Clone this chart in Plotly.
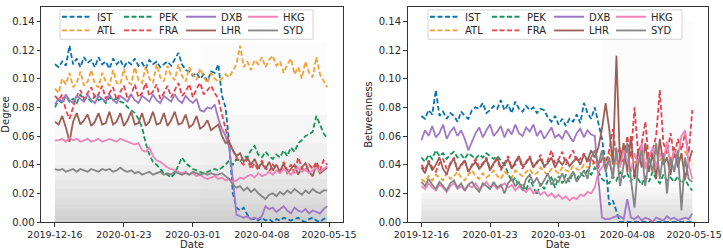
import plotly.graph_objects as go
import pandas as pd

# ---------------- data (sampled every 2 days) ----------------
dates = pd.date_range("2019-12-16", periods=76, freq="2D")
airports = ["IST", "ATL", "PEK", "FRA", "DXB", "LHR", "HKG", "SYD"]
tick_dates = ["2019-12-16", "2020-01-23", "2020-03-01", "2020-04-08", "2020-05-15"]
y_ticks = [0.00, 0.02, 0.04, 0.06, 0.08, 0.10, 0.12, 0.14]

deg_IST = [0.110, 0.108, 0.112, 0.109, 0.123, 0.110, 0.114, 0.108, 0.115, 0.111,
           0.113, 0.108, 0.115, 0.110, 0.112, 0.107, 0.114, 0.110, 0.113, 0.108,
           0.112, 0.110, 0.114, 0.109, 0.111, 0.107, 0.113, 0.110, 0.112, 0.108,
           0.110, 0.112, 0.109, 0.114, 0.118, 0.110, 0.106, 0.105, 0.102, 0.104,
           0.100, 0.103, 0.098, 0.105, 0.104, 0.110, 0.088, 0.080, 0.055, 0.020,
           0.010, 0.008, 0.010, 0.005, 0.002, 0.002, 0.001, 0.003, 0.001, 0.002,
           0.000, 0.002, 0.001, 0.003, 0.002, 0.001, 0.002, 0.003, 0.001, 0.000,
           0.002, 0.003, 0.001, 0.000, 0.002, 0.003]
deg_ATL = [0.093, 0.090, 0.100, 0.096, 0.104, 0.094, 0.097, 0.105, 0.095, 0.098,
           0.106, 0.096, 0.094, 0.104, 0.098, 0.095, 0.106, 0.097, 0.096, 0.107,
           0.098, 0.096, 0.108, 0.099, 0.097, 0.109, 0.100, 0.097, 0.110, 0.101,
           0.098, 0.109, 0.102, 0.099, 0.110, 0.102, 0.098, 0.108, 0.103, 0.099,
           0.107, 0.101, 0.097, 0.104, 0.100, 0.098, 0.100, 0.103, 0.101, 0.106,
           0.110, 0.123, 0.108, 0.112, 0.106, 0.113, 0.110, 0.115, 0.108, 0.113,
           0.116, 0.109, 0.112, 0.104, 0.110, 0.114, 0.103, 0.108, 0.100, 0.112,
           0.104, 0.101, 0.115, 0.103, 0.098, 0.094]
deg_PEK = [0.080, 0.085, 0.083, 0.088, 0.084, 0.086, 0.083, 0.089, 0.085, 0.087,
           0.084, 0.088, 0.085, 0.086, 0.083, 0.087, 0.085, 0.086, 0.084, 0.083,
           0.080, 0.078, 0.076, 0.072, 0.066, 0.055, 0.047, 0.042, 0.040, 0.037,
           0.034, 0.033, 0.031, 0.034, 0.040, 0.045, 0.041, 0.039, 0.037, 0.036,
           0.035, 0.034, 0.035, 0.036, 0.037, 0.036, 0.038, 0.040, 0.043, 0.040,
           0.044, 0.042, 0.046, 0.045, 0.050, 0.053, 0.047, 0.045, 0.049, 0.046,
           0.044, 0.047, 0.045, 0.050, 0.046, 0.052, 0.049, 0.055, 0.057, 0.060,
           0.061, 0.063, 0.074, 0.068, 0.062, 0.058]
deg_FRA = [0.088, 0.085, 0.089, 0.078, 0.072, 0.080, 0.088, 0.092, 0.086, 0.090,
           0.094, 0.087, 0.089, 0.095, 0.086, 0.090, 0.094, 0.085, 0.091, 0.095,
           0.086, 0.089, 0.096, 0.087, 0.090, 0.097, 0.088, 0.091, 0.096, 0.086,
           0.090, 0.095, 0.087, 0.092, 0.097, 0.088, 0.091, 0.096, 0.087, 0.093,
           0.097, 0.089, 0.092, 0.095, 0.090, 0.086, 0.075, 0.065, 0.055, 0.050,
           0.045, 0.042, 0.040, 0.044, 0.037, 0.041, 0.036, 0.043, 0.038, 0.035,
           0.040, 0.037, 0.034, 0.042, 0.036, 0.040, 0.034, 0.045, 0.038, 0.035,
           0.040, 0.037, 0.042, 0.036, 0.043, 0.040]
deg_DXB = [0.082, 0.086, 0.084, 0.089, 0.085, 0.083, 0.088, 0.086, 0.084, 0.089,
           0.085, 0.083, 0.088, 0.086, 0.084, 0.089, 0.085, 0.083, 0.088, 0.086,
           0.084, 0.089, 0.085, 0.083, 0.088, 0.086, 0.084, 0.089, 0.085, 0.083,
           0.088, 0.086, 0.084, 0.089, 0.085, 0.083, 0.088, 0.085, 0.083, 0.086,
           0.078, 0.077, 0.080, 0.079, 0.082, 0.072, 0.065, 0.060, 0.052, 0.030,
           0.005, 0.004, 0.003, 0.004, 0.002, 0.003, 0.002, 0.004, 0.011, 0.009,
           0.010, 0.007, 0.009, 0.011, 0.008, 0.006, 0.010, 0.008, 0.007, 0.009,
           0.006, 0.008, 0.007, 0.006, 0.009, 0.011]
deg_LHR = [0.070, 0.068, 0.074, 0.066, 0.056, 0.070, 0.076, 0.068, 0.071, 0.075,
           0.067, 0.070, 0.076, 0.068, 0.069, 0.077, 0.068, 0.070, 0.076, 0.067,
           0.071, 0.077, 0.068, 0.069, 0.076, 0.067, 0.070, 0.077, 0.068, 0.069,
           0.076, 0.067, 0.071, 0.077, 0.068, 0.069, 0.075, 0.066, 0.068, 0.074,
           0.065, 0.067, 0.071, 0.064, 0.066, 0.068, 0.060, 0.055, 0.056, 0.050,
           0.046, 0.048, 0.042, 0.045, 0.040, 0.044, 0.038, 0.041, 0.037, 0.042,
           0.036, 0.040, 0.035, 0.041, 0.034, 0.037, 0.040, 0.033, 0.038, 0.041,
           0.035, 0.032, 0.040, 0.034, 0.036, 0.038]
deg_HKG = [0.057, 0.057, 0.058, 0.056, 0.059, 0.057, 0.058, 0.056, 0.057, 0.058,
           0.056, 0.057, 0.058, 0.056, 0.057, 0.058, 0.057, 0.056, 0.058, 0.057,
           0.056, 0.055, 0.054, 0.055, 0.050, 0.049, 0.052, 0.046, 0.043, 0.042,
           0.040, 0.038, 0.037, 0.036, 0.035, 0.034, 0.035, 0.033, 0.034, 0.032,
           0.033, 0.031, 0.030, 0.031, 0.032, 0.030, 0.031, 0.029, 0.030, 0.028,
           0.029, 0.031, 0.030, 0.032, 0.033, 0.031, 0.034, 0.032, 0.033, 0.035,
           0.033, 0.036, 0.034, 0.037, 0.035, 0.033, 0.036, 0.038, 0.035, 0.037,
           0.034, 0.036, 0.038, 0.035, 0.037, 0.039]
deg_SYD = [0.037, 0.036, 0.037, 0.035, 0.036, 0.037, 0.035, 0.037, 0.036, 0.035,
           0.037, 0.036, 0.035, 0.037, 0.036, 0.037, 0.035, 0.036, 0.038, 0.036,
           0.035, 0.036, 0.034, 0.035, 0.033, 0.034, 0.035, 0.033, 0.034, 0.035,
           0.033, 0.034, 0.033, 0.035, 0.034, 0.033, 0.034, 0.033, 0.035, 0.034,
           0.033, 0.034, 0.033, 0.034, 0.033, 0.033, 0.034, 0.032, 0.030, 0.026,
           0.024, 0.025, 0.022, 0.024, 0.021, 0.023, 0.020, 0.018, 0.016, 0.019,
           0.020, 0.018, 0.021, 0.019, 0.022, 0.020, 0.023, 0.021, 0.019, 0.022,
           0.020, 0.023, 0.021, 0.020, 0.022, 0.022]

bet_IST = [0.074, 0.072, 0.078, 0.075, 0.092, 0.074, 0.077, 0.072, 0.076, 0.074,
           0.070, 0.077, 0.074, 0.072, 0.078, 0.080, 0.079, 0.083, 0.076, 0.078,
           0.081, 0.079, 0.085, 0.078, 0.082, 0.076, 0.084, 0.079, 0.077, 0.081,
           0.078, 0.080, 0.076, 0.079, 0.078, 0.073, 0.070, 0.074, 0.068, 0.072,
           0.067, 0.072, 0.070, 0.075, 0.069, 0.083, 0.076, 0.072, 0.080, 0.068,
           0.058, 0.040, 0.012, 0.015, 0.008, 0.000, 0.000, 0.000, 0.000, 0.000,
           0.000, 0.000, 0.000, 0.000, 0.000, 0.000, 0.000, 0.000, 0.000, 0.000,
           0.000, 0.000, 0.000, 0.000, 0.000, 0.000]
bet_ATL = [0.030, 0.028, 0.032, 0.029, 0.033, 0.031, 0.029, 0.034, 0.030, 0.032,
           0.035, 0.031, 0.029, 0.033, 0.036, 0.032, 0.030, 0.034, 0.031, 0.033,
           0.036, 0.032, 0.030, 0.035, 0.033, 0.031, 0.036, 0.034, 0.032, 0.035,
           0.037, 0.033, 0.034, 0.038, 0.035, 0.033, 0.037, 0.036, 0.034, 0.038,
           0.036, 0.035, 0.039, 0.037, 0.036, 0.040, 0.038, 0.039, 0.042, 0.040,
           0.045, 0.042, 0.048, 0.044, 0.040, 0.046, 0.043, 0.050, 0.045, 0.041,
           0.047, 0.044, 0.040, 0.048, 0.045, 0.050, 0.043, 0.046, 0.049, 0.044,
           0.047, 0.042, 0.046, 0.049, 0.045, 0.040]
bet_PEK = [0.045, 0.042, 0.047, 0.044, 0.050, 0.046, 0.048, 0.044, 0.047, 0.049,
           0.045, 0.047, 0.044, 0.048, 0.046, 0.044, 0.047, 0.045, 0.048, 0.046,
           0.044, 0.046, 0.043, 0.040, 0.034, 0.028, 0.031, 0.024, 0.027, 0.022,
           0.030, 0.025, 0.019, 0.027, 0.023, 0.029, 0.031, 0.024, 0.032, 0.027,
           0.033, 0.028, 0.035, 0.030, 0.034, 0.032, 0.036, 0.033, 0.038, 0.035,
           0.030, 0.028, 0.027, 0.032, 0.029, 0.035, 0.031, 0.034, 0.028, 0.033,
           0.030, 0.026, 0.032, 0.028, 0.035, 0.030, 0.027, 0.033, 0.029, 0.031,
           0.028, 0.032, 0.027, 0.030, 0.025, 0.022]
bet_FRA = [0.040, 0.036, 0.043, 0.038, 0.035, 0.041, 0.044, 0.037, 0.040, 0.045,
           0.036, 0.039, 0.043, 0.035, 0.040, 0.044, 0.038, 0.041, 0.045, 0.037,
           0.040, 0.044, 0.036, 0.041, 0.046, 0.038, 0.040, 0.045, 0.037, 0.042,
           0.046, 0.039, 0.041, 0.047, 0.038, 0.043, 0.050, 0.041, 0.044, 0.049,
           0.040, 0.045, 0.050, 0.042, 0.044, 0.048, 0.041, 0.045, 0.040, 0.038,
           0.044, 0.040, 0.050, 0.065, 0.045, 0.052, 0.040, 0.060, 0.045, 0.080,
           0.048, 0.055, 0.070, 0.042, 0.050, 0.060, 0.092, 0.055, 0.048, 0.062,
           0.045, 0.058, 0.050, 0.062, 0.048, 0.078]
bet_DXB = [0.057, 0.064, 0.060, 0.067, 0.059, 0.062, 0.068, 0.058, 0.063, 0.066,
           0.060, 0.064, 0.058, 0.050, 0.056, 0.062, 0.066, 0.059, 0.064, 0.068,
           0.060, 0.063, 0.067, 0.059, 0.065, 0.061, 0.068, 0.062, 0.060, 0.066,
           0.063, 0.068, 0.060, 0.064, 0.058, 0.062, 0.066, 0.059, 0.061, 0.058,
           0.064, 0.060, 0.056, 0.062, 0.065, 0.059, 0.064, 0.061, 0.060, 0.030,
           0.003, 0.002, 0.002, 0.003, 0.004, 0.004, 0.002, 0.016, 0.003, 0.002,
           0.004, 0.001, 0.003, 0.002, 0.000, 0.003, 0.002, 0.001, 0.004, 0.002,
           0.003, 0.001, 0.002, 0.003, 0.002, 0.006]
bet_LHR = [0.038, 0.034, 0.042, 0.036, 0.040, 0.045, 0.037, 0.033, 0.041, 0.044,
           0.036, 0.040, 0.043, 0.035, 0.039, 0.042, 0.037, 0.040, 0.044, 0.036,
           0.041, 0.045, 0.038, 0.040, 0.044, 0.037, 0.042, 0.046, 0.039, 0.041,
           0.045, 0.038, 0.042, 0.044, 0.039, 0.041, 0.045, 0.038, 0.043, 0.040,
           0.044, 0.039, 0.042, 0.045, 0.040, 0.047, 0.043, 0.050, 0.045, 0.052,
           0.065, 0.083, 0.065, 0.040, 0.116, 0.040, 0.055, 0.035, 0.060, 0.030,
           0.050, 0.038, 0.055, 0.035, 0.048, 0.030, 0.058, 0.040, 0.045, 0.033,
           0.052, 0.038, 0.048, 0.030, 0.042, 0.050]
bet_HKG = [0.025, 0.023, 0.027, 0.024, 0.022, 0.026, 0.024, 0.021, 0.025, 0.027,
           0.023, 0.025, 0.022, 0.026, 0.024, 0.027, 0.023, 0.025, 0.028, 0.024,
           0.026, 0.023, 0.025, 0.027, 0.024, 0.026, 0.022, 0.025, 0.023, 0.021,
           0.024, 0.020, 0.022, 0.019, 0.021, 0.018, 0.020, 0.017, 0.019, 0.016,
           0.018, 0.015, 0.017, 0.016, 0.019, 0.018, 0.021, 0.020, 0.024, 0.035,
           0.038, 0.042, 0.040, 0.036, 0.045, 0.038, 0.050, 0.042, 0.035, 0.048,
           0.040, 0.055, 0.037, 0.045, 0.052, 0.038, 0.048, 0.042, 0.056, 0.040,
           0.050, 0.045, 0.060, 0.064, 0.040, 0.030]
bet_SYD = [0.028, 0.025, 0.030, 0.026, 0.023, 0.028, 0.025, 0.022, 0.027, 0.029,
           0.024, 0.027, 0.022, 0.026, 0.028, 0.024, 0.021, 0.027, 0.025, 0.023,
           0.028, 0.024, 0.026, 0.020, 0.027, 0.030, 0.025, 0.028, 0.022, 0.030,
           0.033, 0.027, 0.031, 0.025, 0.029, 0.034, 0.026, 0.030, 0.028, 0.034,
           0.027, 0.031, 0.035, 0.028, 0.032, 0.036, 0.030, 0.045, 0.050, 0.040,
           0.050, 0.035, 0.045, 0.030, 0.052, 0.025, 0.040, 0.055, 0.030, 0.010,
           0.040, 0.050, 0.025, 0.045, 0.035, 0.055, 0.030, 0.048, 0.020, 0.045,
           0.035, 0.050, 0.008, 0.045, 0.030, 0.028]

# envelope levels of the faint grey "all other airports" background
bg_deg_levels = [0.004, 0.008, 0.012, 0.017, 0.023, 0.030, 0.040, 0.055, 0.075]
bg_bet_levels = [0.004, 0.008, 0.012, 0.016, 0.020, 0.024]
bg_deg_late_start, bg_deg_late_top = "2020-03-05", 0.125
bg_bet_late_start, bg_bet_late_top = "2020-03-25", 0.14

degree = dict(IST=deg_IST, ATL=deg_ATL, PEK=deg_PEK, FRA=deg_FRA,
              DXB=deg_DXB, LHR=deg_LHR, HKG=deg_HKG, SYD=deg_SYD)
betweenness = dict(IST=bet_IST, ATL=bet_ATL, PEK=bet_PEK, FRA=bet_FRA,
                   DXB=bet_DXB, LHR=bet_LHR, HKG=bet_HKG, SYD=bet_SYD)

# ---------------- styles ----------------
colors = dict(IST="#0a72b0", ATL="#f5a035", PEK="#16975a", FRA="#e8414c",
              DXB="#a178c8", LHR="#9e5d55", HKG="#f283b8", SYD="#858585")
dashed = {"IST", "ATL", "PEK", "FRA"}
row1 = {"IST", "PEK", "DXB", "HKG"}
FONT = "DejaVu Sans"
TXT = "#262626"

W, H = 723, 250
ML, MR, MT, MB = 41, 15, 2, 28
PW = W - ML - MR
PH = H - MT - MB


def px_x(px):
    return (px - ML) / PW


def px_y(py):
    return (H - MB - py) / PH


fig = go.Figure()

panels = [("x", "y", degree, bg_deg_levels, bg_deg_late_start, bg_deg_late_top, ("legend", "legend2")),
          ("x2", "y2", betweenness, bg_bet_levels, bg_bet_late_start, bg_bet_late_top, ("legend3", "legend4"))]

for xa, ya, data, levels, late_start, late_top, legs in panels:
    x_full = [dates[0], dates[-1]]
    for lv in levels:
        fig.add_trace(go.Scatter(x=x_full, y=[lv, lv], xaxis=xa, yaxis=ya, mode="lines",
                                 line=dict(width=0), fill="tozeroy",
                                 fillcolor="rgba(150,150,150,0.055)",
                                 showlegend=False, hoverinfo="skip"))
    fig.add_trace(go.Scatter(x=[pd.Timestamp(late_start), dates[-1]], y=[late_top, late_top],
                             xaxis=xa, yaxis=ya, mode="lines", line=dict(width=0),
                             fill="tozeroy", fillcolor="rgba(150,150,150,0.03)",
                             showlegend=False, hoverinfo="skip"))
    for ap in airports:
        fig.add_trace(go.Scatter(
            x=dates, y=data[ap], xaxis=xa, yaxis=ya, mode="lines", name=ap,
            line=dict(color=colors[ap], width=1.8,
                      dash="5px,2.5px" if ap in dashed else "solid"),
            legend=legs[0] if ap in row1 else legs[1]))

axis_common = dict(showline=True, mirror=True, linecolor="#333333", linewidth=1,
                   ticks="outside", ticklen=3.5, tickwidth=0.8, tickcolor="#333333",
                   showgrid=False, zeroline=False, automargin=False)
xr = [pd.Timestamp("2019-12-16") - pd.Timedelta(days=7.7),
      pd.Timestamp("2020-05-15") + pd.Timedelta(days=7.7)]
xcommon = dict(axis_common, type="date", range=xr, tickvals=tick_dates,
               tickformat="%Y-%m-%d", tickfont=dict(family=FONT, size=9.5, color=TXT),
               title=dict(text="Date", font=dict(family=FONT, size=10, color=TXT), standoff=2))
ycommon = dict(axis_common, range=[0, 0.15], tickvals=y_ticks, tickformat=".2f",
               tickfont=dict(family=FONT, size=10, color=TXT))

leg_common = dict(orientation="h", bgcolor="rgba(0,0,0,0)", borderwidth=0,
                  font=dict(family=FONT, size=10, color=TXT), entrywidth=17,
                  entrywidthmode="pixels", xanchor="left", yanchor="middle",
                  itemclick=False, itemdoubleclick=False)

fig.update_layout(
    width=W, height=H, margin=dict(l=ML, r=MR, t=MT, b=MB),
    paper_bgcolor="white", plot_bgcolor="white",
    font=dict(family=FONT, size=10, color=TXT),
    xaxis=dict(xcommon, domain=[0, px_x(343)], anchor="y"),
    yaxis=dict(ycommon, anchor="x",
               title=dict(text="Degree", font=dict(family=FONT, size=10, color=TXT), standoff=4)),
    xaxis2=dict(xcommon, domain=[px_x(407.5), 1], anchor="y2"),
    yaxis2=dict(ycommon, anchor="x2",
                title=dict(text="Betweenness", font=dict(family=FONT, size=10, color=TXT), standoff=4)),
    legend=dict(leg_common, x=px_x(57), y=px_y(12)),
    legend2=dict(leg_common, x=px_x(57), y=px_y(26)),
    legend3=dict(leg_common, x=px_x(425), y=px_y(12)),
    legend4=dict(leg_common, x=px_x(425), y=px_y(26)),
    shapes=[
        dict(type="rect", xref="paper", yref="paper", layer="above",
             x0=px_x(60), x1=px_x(313), y0=px_y(35), y1=px_y(5),
             line=dict(color="#d4d4d4", width=1), fillcolor="rgba(255,255,255,0.8)"),
        dict(type="rect", xref="paper", yref="paper", layer="above",
             x0=px_x(428), x1=px_x(682), y0=px_y(35), y1=px_y(5),
             line=dict(color="#d4d4d4", width=1), fillcolor="rgba(255,255,255,0.8)"),
    ],
)

fig.write_html("out.html", config={"displayModeBar": False},
               post_script="document.body.style.margin='0';document.body.style.padding='0';")
